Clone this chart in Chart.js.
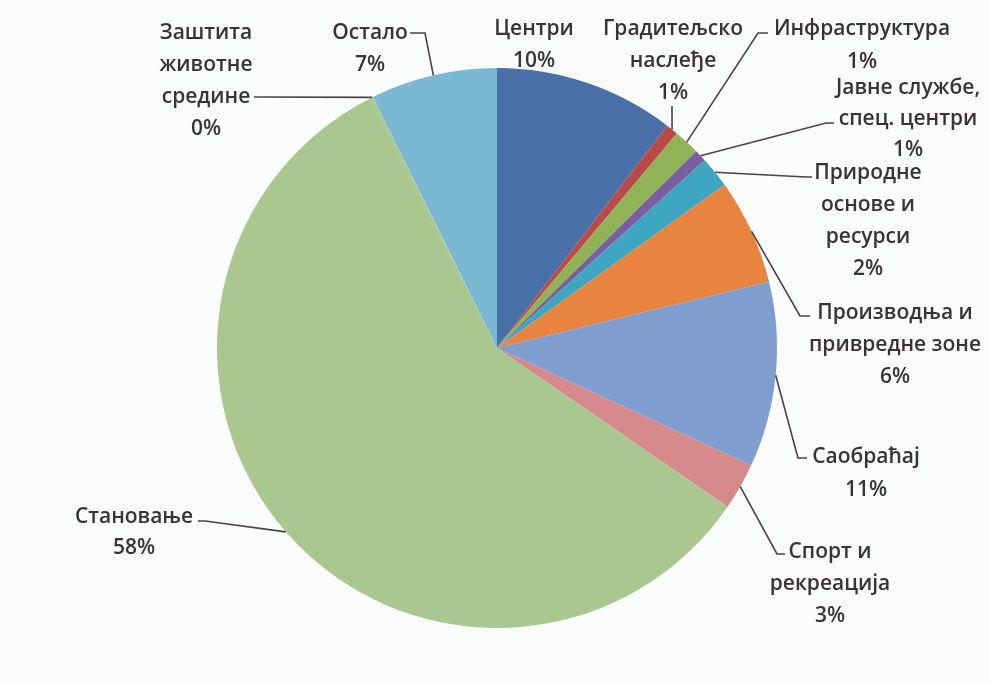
<!DOCTYPE html>
<html>
<head>
<meta charset="utf-8">
<script src="https://cdn.jsdelivr.net/npm/chart.js@4.4.0/dist/chart.umd.min.js"></script>
<style>
  html, body { margin: 0; padding: 0; background: #fafbfb; }
  #wrap { width: 990px; height: 683px; }
</style>
</head>
<body>
<div id="wrap"><canvas id="pieChart" width="990" height="683"></canvas></div>
<script>
// podaci (sa slike)
const categories = [
  'Центри', 'Градитељско наслеђе', 'Инфраструктура', 'Јавне службе, спец. центри',
  'Природне основе и ресурси', 'Производња и привредне зоне', 'Саобраћај',
  'Спорт и рекреација', 'Становање', 'Заштита животне средине', 'Остало'
];
const shares = [10.4, 0.7, 1.5, 0.7, 1.8, 6.1, 10.7, 2.7, 58.0, 0.1, 7.3];
const shownPercent = ['10%', '1%', '1%', '1%', '2%', '6%', '11%', '3%', '58%', '0%', '7%'];
const labelLines = [
  ['Центри'],
  ['Градитељско', 'наслеђе'],
  ['Инфраструктура'],
  ['Јавне службе,', 'спец. центри'],
  ['Природне', 'основе и', 'ресурси'],
  ['Производња и', 'привредне зоне'],
  ['Саобраћај'],
  ['Спорт и', 'рекреација'],
  ['Становање'],
  ['Заштита', 'животне', 'средине'],
  ['Остало']
];
const colors = [
  '#4a70aa', '#b94a47', '#8fb355', '#7a5e9f', '#3fa6c1', '#e8843f',
  '#7f9ecf', '#d6898b', '#a9c78f', '#a9c78f', '#7bb8d2'
];

// raspored natpisa: centar teksta, prvi red, razmak; kraj linije (elbow -> end)
const labelLayout = [
  { x: 534, y: 29, gap: 32, line: null },
  { x: 673, y: 29, gap: 32, line: { ex: 672, ey: 106, tx: 672, ty: 106 } },
  { x: 862, y: 29, gap: 33, line: { ex: 758, ey: 33, tx: 768, ty: 33 } },
  { x: 908, y: 88, gap: 31, line: { ex: 826, ey: 123, tx: 834, ty: 123 } },
  { x: 868, y: 173, gap: 32, line: { ex: 806, ey: 177, tx: 812, ty: 177 } },
  { x: 895, y: 313, gap: 32, line: { ex: 800, ey: 316, tx: 810, ty: 316 } },
  { x: 866, y: 457, gap: 33, line: { ex: 798, ey: 458, tx: 807, ty: 458 } },
  { x: 830, y: 552, gap: 32, line: { ex: 777, ey: 554, tx: 785, ty: 554 } },
  { x: 134, y: 517, gap: 31, line: { ex: 205, ey: 521, tx: 198, ty: 521 } },
  { x: 206, y: 33, gap: 32, line: { ex: 260, ey: 97, tx: 254, ty: 97 } },
  { x: 370, y: 33, gap: 32, line: { ex: 425, ey: 33, tx: 410, ty: 33 } }
];

const leaderLabels = {
  id: 'leaderLabels',
  afterDraw(chart) {
    const c = chart.ctx;
    const arcs = chart.getDatasetMeta(0).data;
    c.save();
    arcs.forEach((arc, i) => {
      const lay = labelLayout[i];
      const p = arc.getProps(['x', 'y', 'startAngle', 'endAngle', 'outerRadius'], true);
      const mid = (p.startAngle + p.endAngle) / 2;
      if (lay.line) {
        const px = p.x + Math.cos(mid) * p.outerRadius;
        const py = p.y + Math.sin(mid) * p.outerRadius;
        c.strokeStyle = '#4a4346';
        c.lineWidth = 1.6;
        c.beginPath();
        c.moveTo(px, py);
        c.lineTo(lay.line.ex, lay.line.ey);
        c.lineTo(lay.line.tx, lay.line.ty);
        c.stroke();
      }
      const lines = labelLines[i].concat([shownPercent[i]]);
      c.fillStyle = '#393336';
      c.font = '600 21px "Open Sans", Lato, sans-serif';
      c.textAlign = 'center';
      c.textBaseline = 'middle';
      lines.forEach((t, k) => c.fillText(t, lay.x, lay.y + k * lay.gap));
    });
    c.restore();
  }
};

new Chart(document.getElementById('pieChart'), {
  type: 'pie',
  data: {
    labels: categories,
    datasets: [{
      data: shares,
      backgroundColor: colors,
      borderColor: colors,
      borderWidth: 0
    }]
  },
  options: {
    responsive: false,
    animation: false,
    layout: { padding: { top: 68, bottom: 55, left: 4, right: 0 } },
    plugins: {
      legend: { display: false },
      tooltip: { enabled: false }
    }
  },
  plugins: [leaderLabels]
});
</script>
</body>
</html>
